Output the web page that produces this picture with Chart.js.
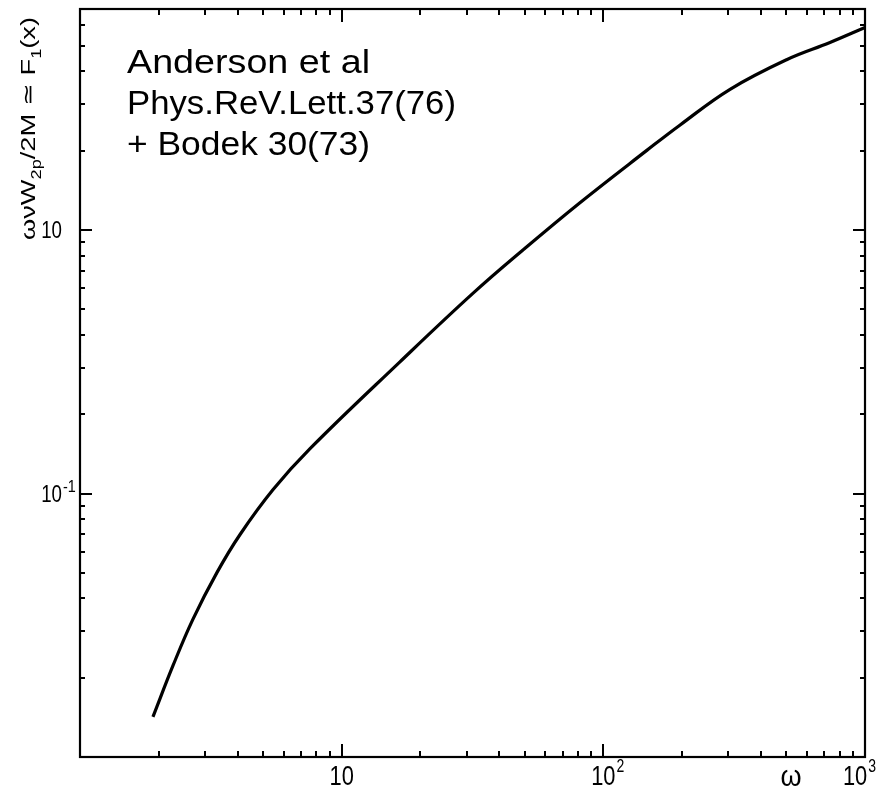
<!DOCTYPE html>
<html>
<head>
<meta charset="utf-8">
<script src="https://cdn.jsdelivr.net/npm/chart.js@4.4.0/dist/chart.umd.min.js"></script>
<style>
    html, body { margin: 0; padding: 0; background: #fff; }
    #grafica { display: block; }
</style>
</head>
<body>
<canvas id="grafica" width="876" height="790"></canvas>
<script>
"use strict";

// curva (omega, omega*nu*W2p/2M)
const omega = [1.9, 2.27, 2.7, 3.34, 4.09, 5.47, 7.57, 16.7, 31.8, 49.3, 81.4, 147, 196, 305, 504, 735, 1000];
const f1 = [0.0142, 0.0223, 0.0333, 0.0502, 0.0699, 0.1035, 0.148, 0.316, 0.576, 0.84, 1.27, 2.01, 2.50, 3.42, 4.44, 5.15, 5.87];

const xTickValues = [10, 100, 1000];
const xTickBase = ["10", "10", "10"];
const xTickExp = ["", "2", "3"];

const yTickValues = [1, 0.1];
const yTickBase = ["10", "10"];
const yTickExp = ["", "-1"];

const nota = ["Anderson et al", "Phys.ReV.Lett.37(76)", "+ Bodek 30(73)"];
const tituloX = "ω";
const tituloY = [
    { t: "ωνW", sub: false },
    { t: "2p", sub: true },
    { t: "/2M ≃ F", sub: false },
    { t: "1", sub: true },
    { t: "(x)", sub: false },
];

const FUENTE = '"Liberation Sans", Arial, sans-serif';

function fuente(px) {
    return `${px}px ${FUENTE}`;
}

// escribe texto comprimido/estirado horizontalmente por sx
function escribir(ctx, str, x, y, px, sx, align) {
    ctx.save();
    ctx.font = fuente(px);
    const w = ctx.measureText(str).width * sx;
    let x0 = x;
    if (align === "right") x0 = x - w;
    if (align === "center") x0 = x - w / 2;
    ctx.translate(x0, y);
    ctx.scale(sx, 1);
    ctx.textAlign = "left";
    ctx.textBaseline = "alphabetic";
    ctx.fillText(str, 0, 0);
    ctx.restore();
    return w;
}

function anchoDe(ctx, str, px, sx) {
    ctx.font = fuente(px);
    return ctx.measureText(str).width * sx;
}

function marcasLog(min, max) {
    const out = [];
    for (let d = -3; d <= 4; d++) {
        const dec = Math.pow(10, d);
        for (let m = 1; m <= 9; m++) {
            const v = m * dec;
            if (v >= min * 0.999 && v <= max * 1.001) out.push({ v, mayor: m === 1 });
        }
    }
    return out;
}

const marco = {
    id: "marco",
    afterDraw(chart) {
        const { ctx, chartArea: a, scales } = chart;
        const x = scales.x;
        const y = scales.y;
        ctx.save();
        ctx.strokeStyle = "#000";
        ctx.fillStyle = "#000";

        // marco
        ctx.lineWidth = 2.2;
        ctx.strokeRect(a.left, a.top, a.right - a.left, a.bottom - a.top);

        // marcas hacia adentro en los cuatro lados
        ctx.lineWidth = 2;
        ctx.beginPath();
        for (const m of marcasLog(x.min, x.max)) {
            const px = Math.round(x.getPixelForValue(m.v));
            const len = m.mayor ? 13 : 6;
            ctx.moveTo(px, a.bottom);
            ctx.lineTo(px, a.bottom - len);
            ctx.moveTo(px, a.top);
            ctx.lineTo(px, a.top + len);
        }
        for (const m of marcasLog(y.min, y.max)) {
            const py = Math.round(y.getPixelForValue(m.v));
            const len = m.mayor ? 12 : 5;
            ctx.moveTo(a.left, py);
            ctx.lineTo(a.left + len, py);
            ctx.moveTo(a.right, py);
            ctx.lineTo(a.right - len, py);
        }
        ctx.stroke();

        // etiquetas eje x
        const sxNum = 0.78;
        xTickValues.forEach((v, i) => {
            const px = x.getPixelForValue(v);
            const wb = anchoDe(ctx, xTickBase[i], 28, sxNum);
            const we = xTickExp[i] ? anchoDe(ctx, xTickExp[i], 18, sxNum) : 0;
            let left = px - wb / 2;
            if (left + wb + we > 875) left = 875 - wb - we;
            escribir(ctx, xTickBase[i], left, a.bottom + 28, 28, sxNum, "left");
            if (xTickExp[i]) escribir(ctx, xTickExp[i], left + wb + 1, a.bottom + 15, 18, sxNum, "left");
        });
        escribir(ctx, tituloX, 791, a.bottom + 29, 30, 0.9, "center");

        // etiquetas eje y
        yTickValues.forEach((v, i) => {
            const py = y.getPixelForValue(v);
            const right = a.left - 18;
            escribir(ctx, yTickBase[i], right, py + 8, 24, sxNum, "right");
            if (yTickExp[i]) escribir(ctx, yTickExp[i], right + 1, py - 2, 16, 0.9, "left");
        });

        // titulo eje y (rotado)
        let total = 0;
        tituloY.forEach((s) => {
            total += anchoDe(ctx, s.t, s.sub ? 14 : 21, 1);
        });
        const escala = 223 / total;
        ctx.save();
        ctx.translate(35, 240);
        ctx.rotate(-Math.PI / 2);
        let pos = 0;
        tituloY.forEach((s) => {
            const px = s.sub ? 14 : 21;
            const w = escribir(ctx, s.t, pos, s.sub ? 6 : 0, px, escala, "left");
            pos += w;
        });
        ctx.restore();

        // nota
        const anchos = [243, 329, 243];
        nota.forEach((linea, i) => {
            const base = anchoDe(ctx, linea, 34, 1);
            escribir(ctx, linea, 127, 73 + i * 41, 34, anchos[i] / base, "left");
        });

        ctx.restore();
    },
};

const puntos = omega.map((w, i) => ({ x: w, y: f1[i] }));

new Chart(document.querySelector("#grafica"), {
    type: "line",
    data: {
        datasets: [
            {
                data: puntos,
                borderColor: "#000",
                borderWidth: 3.2,
                pointRadius: 0,
                tension: 0.4,
                fill: false,
            },
        ],
    },
    options: {
        responsive: false,
        animation: false,
        layout: { padding: { top: 9, right: 11, left: 0, bottom: 0 } },
        plugins: {
            legend: { display: false },
            tooltip: { enabled: false },
        },
        scales: {
            x: {
                type: "logarithmic",
                min: 1,
                max: 1000,
                grid: { display: false },
                border: { display: false },
                ticks: { display: false },
                afterFit: (s) => { s.height = 33; },
            },
            y: {
                type: "logarithmic",
                min: 0.01,
                max: 6.9,
                grid: { display: false },
                border: { display: false },
                ticks: { display: false },
                afterFit: (s) => { s.width = 80; },
            },
        },
    },
    plugins: [marco],
});
</script>
</body>
</html>
